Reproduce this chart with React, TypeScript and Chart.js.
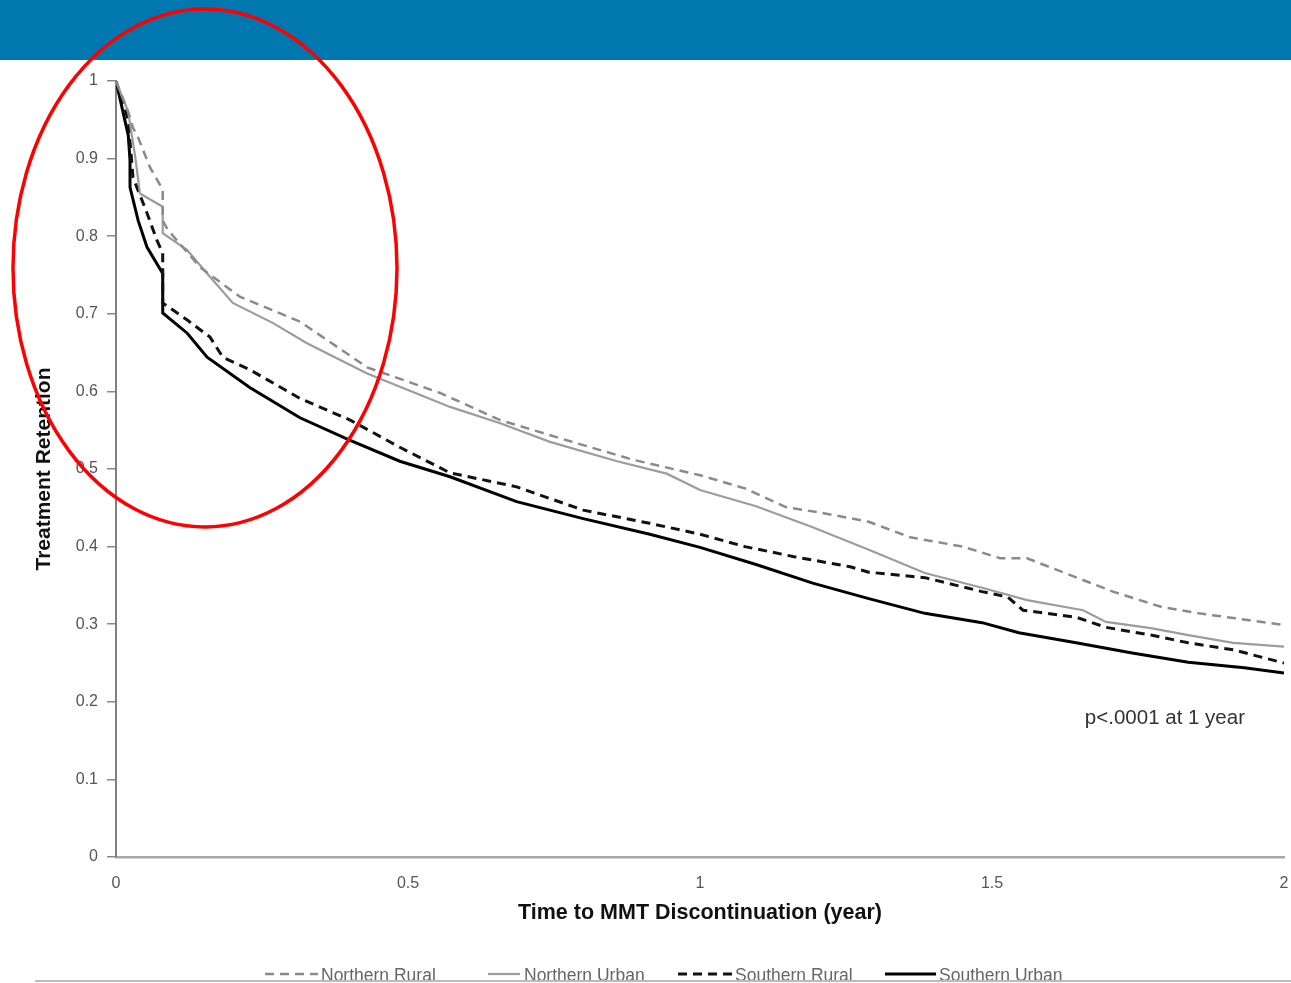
import React, { useEffect, useRef } from 'react';
import { Chart, registerables } from 'chart.js';

Chart.register(...registerables);

const seriesNames = ['Northern Rural', 'Northern Urban', 'Southern Rural', 'Southern Urban'];

const northernRuralX = [0, 0.021, 0.029, 0.038, 0.058, 0.08, 0.08, 0.089, 0.144, 0.212, 0.315, 0.43, 0.555, 0.658, 0.772, 0.885, 1.0, 1.077, 1.147, 1.212, 1.289, 1.36, 1.45, 1.514, 1.56, 1.611, 1.707, 1.791, 1.854, 1.913, 2.0];
const northernRuralY = [1.0, 0.96, 0.94, 0.927, 0.889, 0.86, 0.82, 0.808, 0.76, 0.722, 0.69, 0.631, 0.598, 0.563, 0.537, 0.512, 0.492, 0.475, 0.451, 0.443, 0.432, 0.412, 0.4, 0.385, 0.385, 0.37, 0.342, 0.322, 0.314, 0.308, 0.299];

const northernUrbanX = [0, 0.021, 0.033, 0.041, 0.08, 0.08, 0.122, 0.156, 0.2, 0.269, 0.327, 0.43, 0.572, 0.658, 0.743, 0.858, 0.943, 1.0, 1.096, 1.193, 1.289, 1.385, 1.483, 1.56, 1.656, 1.695, 1.772, 1.836, 1.913, 2.0];
const northernUrbanY = [1.0, 0.96, 0.902, 0.855, 0.838, 0.804, 0.782, 0.752, 0.714, 0.688, 0.662, 0.623, 0.58, 0.559, 0.535, 0.51, 0.494, 0.473, 0.452, 0.425, 0.396, 0.366, 0.347, 0.331, 0.318, 0.303, 0.295, 0.286, 0.276, 0.271];

const southernRuralX = [0, 0.021, 0.029, 0.053, 0.07, 0.08, 0.08, 0.122, 0.161, 0.183, 0.229, 0.315, 0.401, 0.486, 0.572, 0.686, 0.8, 0.914, 1.0, 1.077, 1.161, 1.257, 1.289, 1.385, 1.483, 1.527, 1.553, 1.644, 1.695, 1.772, 1.836, 1.913, 2.0];
const southernRuralY = [1.0, 0.95, 0.876, 0.83, 0.795, 0.778, 0.714, 0.692, 0.67, 0.644, 0.628, 0.591, 0.563, 0.528, 0.495, 0.477, 0.447, 0.43, 0.416, 0.4, 0.387, 0.374, 0.367, 0.36, 0.342, 0.335, 0.318, 0.309, 0.296, 0.286, 0.276, 0.267, 0.25];

const southernUrbanX = [0, 0.021, 0.024, 0.024, 0.038, 0.053, 0.08, 0.08, 0.122, 0.156, 0.229, 0.315, 0.401, 0.486, 0.572, 0.686, 0.8, 0.914, 1.0, 1.096, 1.193, 1.289, 1.385, 1.483, 1.546, 1.644, 1.74, 1.836, 1.932, 2.0];
const southernUrbanY = [1.0, 0.93, 0.898, 0.863, 0.82, 0.786, 0.752, 0.701, 0.675, 0.644, 0.605, 0.566, 0.537, 0.51, 0.49, 0.458, 0.436, 0.416, 0.399, 0.377, 0.353, 0.333, 0.314, 0.302, 0.289, 0.276, 0.263, 0.251, 0.244, 0.237];

const xTickLabels = ['0', '0.5', '1', '1.5', '2'];
const yTickLabels = ['0', '0.1', '0.2', '0.3', '0.4', '0.5', '0.6', '0.7', '0.8', '0.9', '1'];

const xTitle = 'Time to MMT Discontinuation (year)';
const yTitle = 'Treatment Retention';
const annotationText = 'p<.0001 at 1 year';
const annotationX = 1.659;
const annotationY = 0.179;

const FONT = "'Liberation Sans', Arial, sans-serif";

const toPoints = (xs: number[], ys: number[]) => xs.map((x, i) => ({ x, y: ys[i] }));

export default function App() {
  const ref = useRef<HTMLCanvasElement | null>(null);

  useEffect(() => {
    if (!ref.current) return;

    const bgPlugin = {
      id: 'bg',
      beforeDraw(chart: any) {
        const { ctx, width, height } = chart;
        ctx.save();
        ctx.fillStyle = '#ffffff';
        ctx.fillRect(0, 0, width, height);
        ctx.fillStyle = '#0077ae';
        ctx.fillRect(0, 0, width, 60);
        ctx.restore();
      },
    };

    const overlayPlugin = {
      id: 'overlay',
      afterDraw(chart: any) {
        const { ctx } = chart;
        const xs = chart.scales.x;
        const ys = chart.scales.y;
        ctx.save();
        // annotation
        ctx.fillStyle = '#333333';
        ctx.font = `20.5px ${FONT}`;
        ctx.textAlign = 'left';
        ctx.textBaseline = 'middle';
        ctx.fillText(annotationText, xs.getPixelForValue(annotationX), ys.getPixelForValue(annotationY));

        // legend
        const legendPos = [
          { x0: 265, x1: 318, tx: 321 },
          { x0: 488, x1: 520, tx: 524 },
          { x0: 678, x1: 732, tx: 735 },
          { x0: 885, x1: 936, tx: 939 },
        ];
        const ly = 974;
        chart.data.datasets.forEach((ds: any, i: number) => {
          const p = legendPos[i];
          ctx.save();
          ctx.strokeStyle = ds.borderColor;
          ctx.lineWidth = ds.borderWidth;
          ctx.setLineDash(ds.borderDash || []);
          ctx.beginPath();
          ctx.moveTo(p.x0, ly);
          ctx.lineTo(p.x1, ly);
          ctx.stroke();
          ctx.restore();
          ctx.fillStyle = '#666666';
          ctx.font = `17.5px ${FONT}`;
          ctx.textAlign = 'left';
          ctx.textBaseline = 'middle';
          ctx.fillText(ds.label, p.tx, ly + 2);
        });
        ctx.strokeStyle = '#bbbbbb';
        ctx.lineWidth = 2;
        ctx.beginPath();
        ctx.moveTo(35, 981);
        ctx.lineTo(1291, 981);
        ctx.stroke();

        // red ellipse
        ctx.strokeStyle = '#ff0000';
        ctx.lineWidth = 3.5;
        ctx.beginPath();
        ctx.ellipse(205, 268, 192, 259, 0, 0, Math.PI * 2);
        ctx.stroke();
        ctx.restore();
      },
    };

    const chart = new Chart(ref.current, {
      type: 'scatter',
      data: {
        datasets: [
          {
            label: seriesNames[0],
            data: toPoints(northernRuralX, northernRuralY),
            borderColor: '#8a8a8a',
            borderWidth: 2.5,
            borderDash: [9, 6],
            showLine: true,
            pointRadius: 0,
          },
          {
            label: seriesNames[1],
            data: toPoints(northernUrbanX, northernUrbanY),
            borderColor: '#9c9c9c',
            borderWidth: 2.2,
            showLine: true,
            pointRadius: 0,
          },
          {
            label: seriesNames[2],
            data: toPoints(southernRuralX, southernRuralY),
            borderColor: '#111111',
            borderWidth: 3,
            borderDash: [9, 6],
            showLine: true,
            pointRadius: 0,
          },
          {
            label: seriesNames[3],
            data: toPoints(southernUrbanX, southernUrbanY),
            borderColor: '#000000',
            borderWidth: 3,
            showLine: true,
            pointRadius: 0,
          },
        ],
      },
      options: {
        responsive: false,
        animation: false,
        devicePixelRatio: 1,
        layout: { padding: { left: 0, right: 7, top: 81, bottom: 0 } },
        plugins: { legend: { display: false }, tooltip: { enabled: false } },
        scales: {
          x: {
            type: 'linear',
            min: 0,
            max: 2,
            afterFit: (s: any) => {
              s.height = 126;
              s.paddingLeft = 0;
              s.paddingRight = 0;
            },
            ticks: {
              stepSize: 0.5,
              maxRotation: 0,
              color: '#555555',
              font: { family: FONT, size: 16 },
              padding: 17,
              callback: (v: any) => xTickLabels[Math.round(Number(v) / 0.5)],
            },
            grid: { display: false, drawTicks: false },
            border: { display: true, color: '#a8a8a8', width: 2.5 },
            title: {
              display: true,
              text: xTitle,
              color: '#111111',
              font: { family: FONT, size: 21.5, weight: 'bold' },
              padding: { top: 0, bottom: 57 },
            },
          },
          y: {
            type: 'linear',
            min: 0,
            max: 1,
            afterFit: (s: any) => {
              s.width = 116;
              s.paddingTop = 0;
              s.paddingBottom = 0;
            },
            ticks: {
              stepSize: 0.1,
              color: '#555555',
              font: { family: FONT, size: 16 },
              padding: 9,
              callback: (v: any) => yTickLabels[Math.round(Number(v) * 10)],
            },
            grid: { display: true, drawOnChartArea: false, drawTicks: true, tickLength: 9, color: '#888888', lineWidth: 1.5 },
            border: { display: true, color: '#808080', width: 2 },
            title: {
              display: true,
              text: yTitle,
              color: '#111111',
              font: { family: FONT, size: 21, weight: 'bold' },
              padding: { top: 32, bottom: 0 },
            },
          },
        },
      } as any,
      plugins: [bgPlugin, overlayPlugin],
    });

    return () => chart.destroy();
  }, []);

  return (
    <div style={{ position: 'absolute', left: 0, top: 0, width: 1291, height: 983 }}>
      <canvas ref={ref} width={1291} height={983} style={{ display: 'block', width: 1291, height: 983 }} />
    </div>
  );
}
